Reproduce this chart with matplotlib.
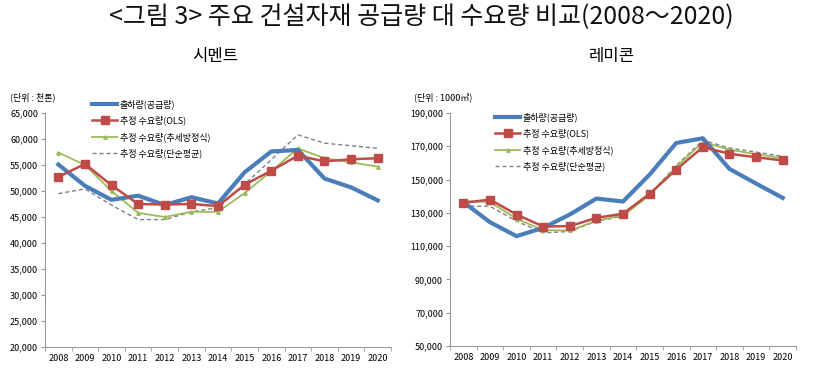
import numpy as np
import matplotlib
matplotlib.use("Agg")
import matplotlib.pyplot as plt
from matplotlib.ticker import FuncFormatter

plt.rcParams['font.family'] = ['Noto Sans CJK KR', 'DejaVu Sans']

years = [str(y) for y in range(2008, 2021)]
series_names = ['출하량(공급량)', '추정 수요량(OLS)', '추정 수요량(추세방정식)', '추정 수요량(단순평균)']

# 시멘트 (천톤)
cement_supply = [55100, 51000, 48300, 49100, 47300, 48800, 47600, 53600, 57600, 57900, 52400, 50700, 48200]
cement_ols = [52700, 55200, 51100, 47500, 47400, 47500, 47100, 51200, 53900, 56800, 55700, 56100, 56300]
cement_trend = [57400, 55000, 50000, 45800, 45000, 46000, 46000, 49600, 53800, 58200, 56300, 55500, 54700]
cement_avg = [49500, 50400, 47300, 44500, 44500, 46000, 46800, 51300, 56000, 60800, 59200, 58700, 58200]

# 레미콘 (1000㎥)
remicon_supply = [136500, 124400, 116000, 121000, 129000, 138600, 136800, 153000, 172000, 174800, 156400, 147600, 139000]
remicon_ols = [136000, 138000, 129000, 121800, 122000, 127000, 129500, 141500, 156000, 169500, 165500, 163400, 161500]
remicon_trend = [137000, 136500, 126500, 119600, 119400, 125200, 128500, 140500, 157600, 172500, 168000, 165200, 163000]
remicon_avg = [134000, 134000, 125000, 118000, 118800, 125000, 128000, 141000, 158400, 173600, 169000, 166500, 164000]

fig = plt.figure(figsize=(8.15, 3.72), dpi=100)

fig.text(0.517, 0.955, '<그림 3> 주요 건설자재 공급량 대 수요량 비교(2008～2020)',
         ha='center', va='center', fontsize=18, fontweight='medium', color='#111111')
fig.text(215 / 815, 1 - 57 / 372, '시멘트', ha='center', va='center', fontsize=12)
fig.text(612 / 815, 1 - 57 / 372, '레미콘', ha='center', va='center', fontsize=12)


def draw_panel(ax, data, ylim, ystep, unit, unit_x, leg_xy):
    x = np.arange(len(years))
    supply, ols, trend, avg = data
    ax.plot(x, supply, color='#4A7EBB', lw=3.0, label=series_names[0], zorder=4)
    ax.plot(x, ols, color='#BE4B48', lw=1.8, marker='s', ms=6, label=series_names[1], zorder=5)
    ax.plot(x, trend, color='#9BBB59', lw=1.3, marker='^', ms=2.5, label=series_names[2], zorder=3)
    ax.plot(x, avg, color='#80808C', lw=1.0, ls=(0, (3, 2)), label=series_names[3], zorder=2)

    ax.set_xlim(-0.5, len(years) - 0.5)
    ax.set_ylim(*ylim)
    ax.set_yticks(np.arange(ylim[0], ylim[1] + 1, ystep))
    ax.yaxis.set_major_formatter(FuncFormatter(lambda v, p: f'{int(v):,}'))
    ax.set_xticks(x)
    ax.set_xticklabels(years)
    ax.set_xticks(np.arange(-0.5, len(years), 1), minor=True)
    ax.tick_params(axis='x', which='major', length=0, pad=5, labelsize=6.5)
    ax.tick_params(axis='x', which='minor', length=3, color='#999999')
    ax.tick_params(axis='y', length=3, color='#999999', labelsize=6.5, pad=2)
    for s in ['top', 'right']:
        ax.spines[s].set_visible(False)
    for s in ['left', 'bottom']:
        ax.spines[s].set_color('#999999')
        ax.spines[s].set_linewidth(0.8)

    fig.text(unit_x, 1 - 97 / 372, unit, ha='left', va='center', fontsize=6.5)
    ax.legend(loc='upper left', bbox_to_anchor=leg_xy, bbox_transform=fig.transFigure,
              frameon=False, fontsize=6.5, handlelength=2.8, labelspacing=0.75,
              borderpad=0, borderaxespad=0, handletextpad=0.3)


ax1 = fig.add_axes([45 / 815, 25 / 372, 346 / 815, 234 / 372])
draw_panel(ax1, (cement_supply, cement_ols, cement_trend, cement_avg),
           (20000, 65000), 5000, '(단위 : 천톤)', 10 / 815, (92 / 815, 1 - 99 / 372))

ax2 = fig.add_axes([450 / 815, 26 / 372, 346 / 815, 233 / 372])
draw_panel(ax2, (remicon_supply, remicon_ols, remicon_trend, remicon_avg),
           (50000, 190000), 20000, '(단위 : 1000㎥)', 414 / 815, (495 / 815, 1 - 112 / 372))

fig.savefig('out.png', dpi=100)
